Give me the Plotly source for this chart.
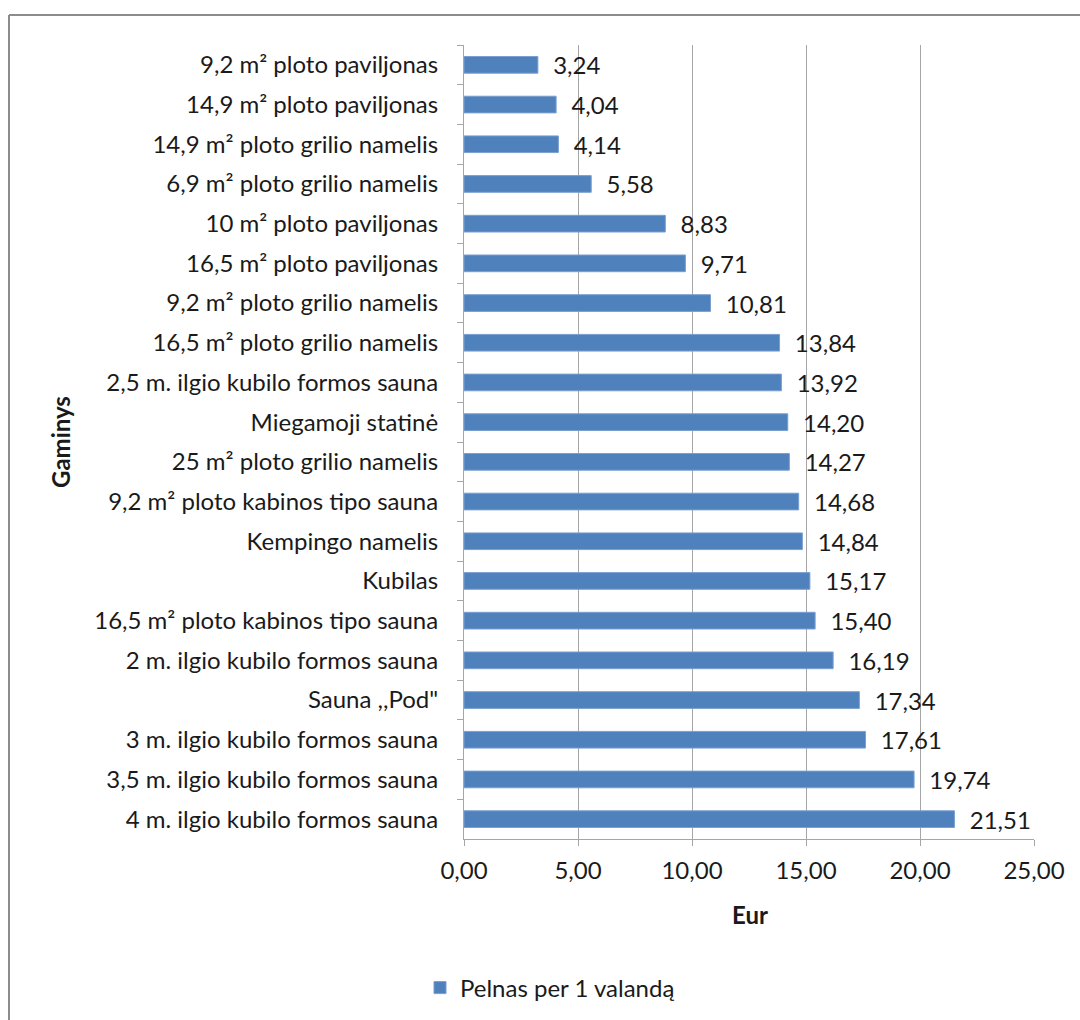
import plotly.graph_objects as go

# Products, listed top to bottom as drawn
products = [
    "9,2 m² ploto paviljonas",
    "14,9 m² ploto paviljonas",
    "14,9 m² ploto grilio namelis",
    "6,9 m² ploto grilio namelis",
    "10 m² ploto paviljonas",
    "16,5 m² ploto paviljonas",
    "9,2 m² ploto grilio namelis",
    "16,5 m² ploto grilio namelis",
    "2,5 m. ilgio kubilo formos sauna",
    "Miegamoji statinė",
    "25 m² ploto grilio namelis",
    "9,2 m² ploto kabinos tipo sauna",
    "Kempingo namelis",
    "Kubilas",
    "16,5 m² ploto kabinos tipo sauna",
    "2 m. ilgio kubilo formos sauna",
    "Sauna ,,Pod\"",
    "3 m. ilgio kubilo formos sauna",
    "3,5 m. ilgio kubilo formos sauna",
    "4 m. ilgio kubilo formos sauna",
]

# Profit per hour, EUR
profit = [3.24, 4.04, 4.14, 5.58, 8.83, 9.71, 10.81, 13.84, 13.92, 14.20,
          14.27, 14.68, 14.84, 15.17, 15.40, 16.19, 17.34, 17.61, 19.74, 21.51]

series_name = "Pelnas per 1 valandą"
x_ticks = [0, 5, 10, 15, 20, 25]

FONT = "Lato"
FS = 24
TEXT = "#1a1a1a"
GRID = "#a6a6a6"
BAR = "#4F81BD"

W, H = 1080, 1020
L, R, T, B = 464, 46, 45, 181
pw, ph = W - L - R, H - T - B


def px_x(p):
    return (p - L) / pw


def px_y(p):
    return (H - B - p) / ph


fig = go.Figure()
fig.add_trace(go.Bar(
    x=profit,
    y=products,
    orientation="h",
    name=series_name,
    marker=dict(color=BAR, line=dict(color="#7a9fd0", width=1)),
    width=0.42,
    texttemplate="  %{x:.2f}",
    textposition="outside",
    constraintext="none",
    cliponaxis=False,
    textfont=dict(family=FONT, size=FS, color=TEXT),
    showlegend=True,
))

fig.update_layout(
    width=W, height=H,
    margin=dict(l=L, r=R, t=T, b=B, autoexpand=False),
    paper_bgcolor="white",
    plot_bgcolor="white",
    separators=", ",
    font=dict(family=FONT, size=FS, color=TEXT),
    showlegend=True,
    legend=dict(
        orientation="h",
        x=px_x(420), xanchor="left",
        y=px_y(988), yanchor="middle",
        itemwidth=30,
        font=dict(family=FONT, size=FS, color=TEXT),
        bgcolor="rgba(0,0,0,0)",
    ),
    xaxis=dict(
        range=[0, 25],
        tickvals=x_ticks,
        tickformat=".2f",
        showgrid=True,
        gridcolor=GRID,
        gridwidth=1,
        zeroline=False,
        showline=True,
        linecolor=GRID,
        linewidth=1,
        ticks="outside",
        ticklen=6,
        tickcolor=GRID,
        tickfont=dict(family=FONT, size=FS, color=TEXT),
        ticklabelstandoff=4,
    ),
    yaxis=dict(
        autorange="reversed",
        type="category",
        showgrid=False,
        showline=True,
        linecolor=GRID,
        linewidth=1,
        ticks="outside",
        tickson="boundaries",
        ticklen=6,
        tickcolor=GRID,
        tickfont=dict(family=FONT, size=FS, color=TEXT),
        ticklabelstandoff=20,
    ),
    annotations=[
        dict(text="<b>Eur</b>", xref="paper", yref="paper",
             x=px_x(750), y=px_y(914), xanchor="center", yanchor="middle",
             showarrow=False,
             font=dict(family=FONT, size=FS, color=TEXT)),
        dict(text="<b>Gaminys</b>", xref="paper", yref="paper",
             x=px_x(60), y=px_y(442), xanchor="center", yanchor="middle",
             showarrow=False, textangle=-90,
             font=dict(family=FONT, size=FS, color=TEXT)),
    ],
    shapes=[
        # outer chart frame (left and top edges visible)
        dict(type="line", xref="paper", yref="paper",
             x0=px_x(9), x1=px_x(1100), y0=px_y(15), y1=px_y(15),
             line=dict(color="#8c8c8c", width=2)),
        dict(type="line", xref="paper", yref="paper",
             x0=px_x(9), x1=px_x(9), y0=px_y(15), y1=px_y(1040),
             line=dict(color="#8c8c8c", width=2)),
    ],
)

fig.write_html("out.html")
